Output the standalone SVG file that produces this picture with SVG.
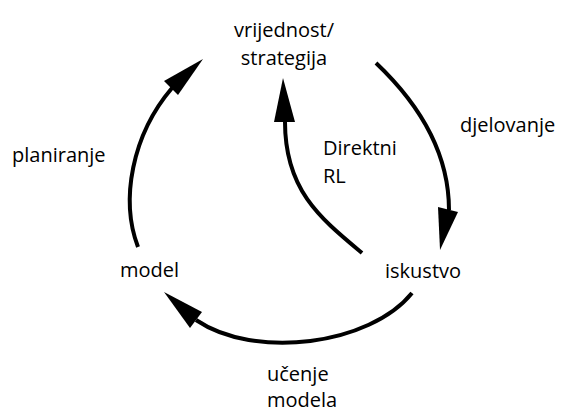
<svg xmlns="http://www.w3.org/2000/svg" width="563" height="413" viewBox="0 0 563 413">
<style>
.t{font-family:"Open Sans","Noto Sans",sans-serif;font-size:20px;fill:#000}
.c{fill:none;stroke:#000;stroke-width:4;stroke-linecap:butt}
.h{fill:#000;stroke:none}
</style>
<rect width="563" height="413" fill="#fff"/>
<g id="connectors">
<path class="c" d="M138,247 C120,200 132,135 172,88"/>
<polygon class="h" points="203,59 164,81 178,95"/>
<path class="c" d="M376,63 C415,100 449,150 449,210"/>
<polygon class="h" points="440,250 438,207 458,212"/>
<path class="c" d="M412,293 C370,345 255,360 196,320"/>
<polygon class="h" points="164,292 202,312 190,328"/>
<path class="c" d="M362,253 C320,218 285,190 285,122"/>
<polygon class="h" points="283,78 274,122 295,122"/>
</g>
<g id="node-vrijednost">
<text class="t" x="284" y="37" text-anchor="middle">vrijednost/</text>
<text class="t" x="284" y="65" text-anchor="middle">strategija</text>
</g>
<g id="node-model"><text class="t" x="120" y="277">model</text></g>
<g id="node-iskustvo"><text class="t" x="385" y="278">iskustvo</text></g>
<g id="labels">
<text class="t" x="460" y="132">djelovanje</text>
<text class="t" x="12" y="162">planiranje</text>
<text class="t" x="323" y="155">Direktni</text>
<text class="t" x="323" y="183">RL</text>
<text class="t" x="267" y="381">učenje</text>
<text class="t" x="267" y="407">modela</text>
</g>
</svg>
